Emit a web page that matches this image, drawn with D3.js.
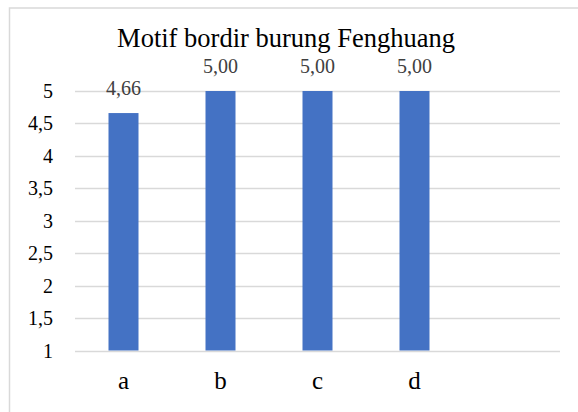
<!DOCTYPE html>
<html><head><meta charset="utf-8">
<script src="https://cdn.jsdelivr.net/npm/d3@7"></script>
<style>body{margin:0;background:#fff}svg{display:block}</style>
</head><body><svg id="c" width="578" height="412"></svg>
<script>
const categories = ["a","b","c","d",""];
const values = [4.66, 5.00, 5.00, 5.00, null];
const labels = ["4,66","5,00","5,00","5,00",""];
const yTicks = [1,1.5,2,2.5,3,3.5,4,4.5,5];
const title = "Motif bordir burung Fenghuang";

const svg = d3.select("#c");
const font = "'Liberation Serif','Times New Roman',serif";
svg.append("rect").attr("x",9.5).attr("y",8).attr("width",600).attr("height",420)
  .attr("fill","#fff").attr("stroke","#d9d9d9").attr("stroke-width",1.5);

const x = d3.scaleBand().domain(categories.map((c,i)=>i)).range([75,560]).paddingInner(0).paddingOuter(0);
const y = d3.scaleLinear().domain([1,5]).range([350.5,91]);
const bw = 30;

svg.append("g").selectAll("line").data(yTicks).join("line")
  .attr("x1",75).attr("x2",560).attr("y1",d=>Math.round(y(d))+0.5).attr("y2",d=>Math.round(y(d))+0.5)
  .attr("stroke","#d9d9d9").attr("stroke-width",1.3);

const fmt = d3.format(".1~f");
svg.append("g").selectAll("text").data(yTicks).join("text")
  .attr("x",53).attr("y",d=>y(d)).attr("dy","0.35em").attr("text-anchor","end")
  .attr("font-family",font).attr("font-size",20).attr("fill","#000")
  .text(d=>fmt(d).replace(".",","));

const data = categories.map((c,i)=>({i,c,v:values[i],l:labels[i]})).filter(d=>d.v!=null);
svg.append("g").selectAll("rect").data(data).join("rect")
  .attr("x",d=>x(d.i)+x.bandwidth()/2-bw/2).attr("width",bw)
  .attr("y",d=>y(d.v)).attr("height",d=>y(1)-y(d.v)).attr("fill","#4472c4");

svg.append("g").selectAll("text").data(data).join("text")
  .attr("x",d=>x(d.i)+x.bandwidth()/2).attr("y",d=>y(d.v)-18)
  .attr("text-anchor","middle").attr("font-family",font).attr("font-size",20).attr("fill","#404040")
  .text(d=>d.l);

svg.append("g").selectAll("text").data(categories.map((c,i)=>({c,i}))).join("text")
  .attr("x",d=>x(d.i)+x.bandwidth()/2).attr("y",389)
  .attr("text-anchor","middle").attr("font-family",font).attr("font-size",25).attr("fill","#000")
  .text(d=>d.c);

svg.append("text").attr("x",286).attr("y",47).attr("text-anchor","middle")
  .attr("font-family",font).attr("font-size",26.5).attr("fill","#000").text(title);
</script></body></html>
